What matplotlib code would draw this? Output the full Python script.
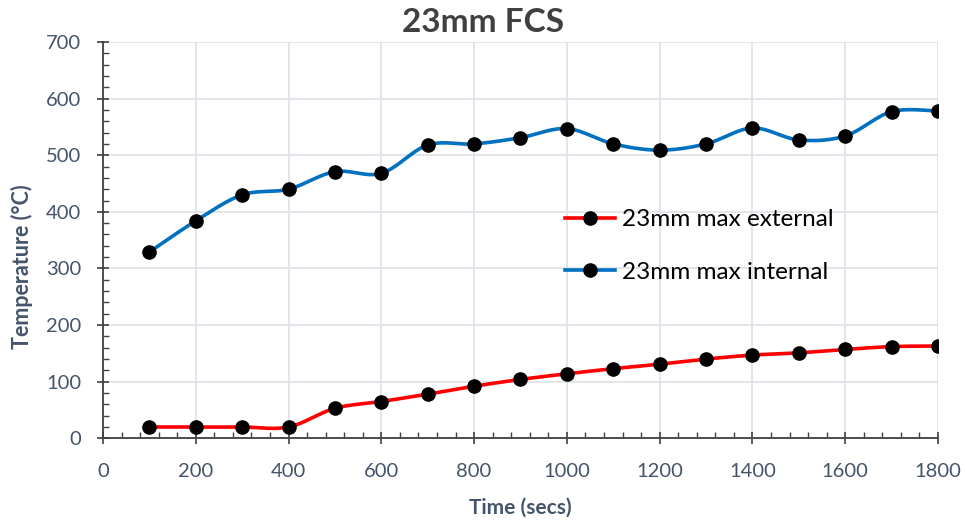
#!/usr/bin/env python3
import matplotlib

matplotlib.use("Agg")
import matplotlib.pyplot as plt  # noqa: E402
import numpy as np  # noqa: E402
from matplotlib.ticker import MultipleLocator  # noqa: E402

time_s = [100, 200, 300, 400, 500, 600, 700, 800, 900, 1000,
          1100, 1200, 1300, 1400, 1500, 1600, 1700, 1800]
max_external = [20, 20, 20, 20, 53, 65, 78, 92, 104, 114,
                123, 131, 140, 147, 151, 157, 162, 163]
max_internal = [329, 384, 430, 440, 471, 468, 518, 520, 531, 547,
                520, 509, 520, 548, 527, 534, 577, 578]

TEXT = "#44546A"
plt.rcParams["font.family"] = ["Lato", "DejaVu Sans"]


def _smooth(x, y, n=30):
    # Excel-style smoothed line: Catmull-Rom through every point
    x = np.asarray(x, float)
    y = np.asarray(y, float)
    px = np.concatenate([[x[0]], x, [x[-1]]])
    py = np.concatenate([[y[0]], y, [y[-1]]])
    xs, ys = [], []
    for i in range(1, len(px) - 2):
        p0, p1, p2, p3 = (np.array([px[j], py[j]]) for j in (i - 1, i, i + 1, i + 2))
        c1 = p1 + (p2 - p0) / 6
        c2 = p2 - (p3 - p1) / 6
        t = np.linspace(0, 1, n)[:, None]
        pts = ((1 - t) ** 3) * p1 + 3 * ((1 - t) ** 2) * t * c1 + 3 * (1 - t) * t ** 2 * c2 + t ** 3 * p2
        xs.extend(pts[:, 0])
        ys.extend(pts[:, 1])
    return xs, ys


fig = plt.figure(figsize=(9.65, 5.21), dpi=100)
ax = fig.add_axes([0.1067, 0.1587, 0.8653, 0.7607])

for ys, color, label in [(max_external, "#FF0000", "23mm max external"),
                         (max_internal, "#0070C0", "23mm max internal")]:
    sx, sy = _smooth(time_s, ys)
    ax.plot(sx, sy, color=color, lw=2.6, zorder=3)
    ax.plot(time_s, ys, ls="none", marker="o", ms=9.5, color="black", zorder=4)
    ax.plot([], [], color=color, lw=2.6, marker="o", ms=9.5,
            markerfacecolor="black", markeredgecolor="black", label=label)

ax.set_xlim(0, 1800)
ax.set_ylim(0, 700)
ax.xaxis.set_major_locator(MultipleLocator(200))
ax.xaxis.set_minor_locator(MultipleLocator(40))
ax.yaxis.set_major_locator(MultipleLocator(100))
ax.yaxis.set_minor_locator(MultipleLocator(20))
ax.grid(True, which="major", color="#DDE1E8", lw=1.2, zorder=0)
ax.set_axisbelow(True)

for side in ("top", "right"):
    ax.spines[side].set_visible(False)
for side in ("left", "bottom"):
    ax.spines[side].set_color("#404040")
    ax.spines[side].set_linewidth(1.3)

ax.tick_params(which="major", direction="inout", length=9, width=1.2,
               color="#404040", labelsize=14.5, labelcolor=TEXT)
ax.tick_params(axis="x", which="major", pad=13)
ax.tick_params(axis="y", which="major", pad=11)
ax.tick_params(which="minor", direction="in", length=4.5, width=1.0, color="#404040")

fig.text(483 / 965, 1 - 22 / 521, "23mm FCS", ha="center", va="center",
         fontsize=24, fontweight="bold", color="#404040")
ax.set_xlabel("Time (secs)", fontsize=15, fontweight="bold", color=TEXT)
ax.set_ylabel("Temperature (°C)", fontsize=15.5, fontweight="bold", color=TEXT)
ax.xaxis.label.set_va("center")
ax.yaxis.label.set_va("center")
ax.xaxis.set_label_coords(0.5, -(508 - 438.3) / 396.3)
ax.yaxis.set_label_coords(-(103 - 22) / 835, (438.3 - 267) / 396.3)

leg = ax.legend(loc="center left", bbox_to_anchor=(0.553, 0.485), frameon=False,
                fontsize=17.5, labelspacing=1.3, handlelength=2.05, handletextpad=0.3,
                borderpad=0, borderaxespad=0)
for t in leg.get_texts():
    t.set_color("black")

fig.savefig("out.png", dpi=100)
plt.close(fig)
